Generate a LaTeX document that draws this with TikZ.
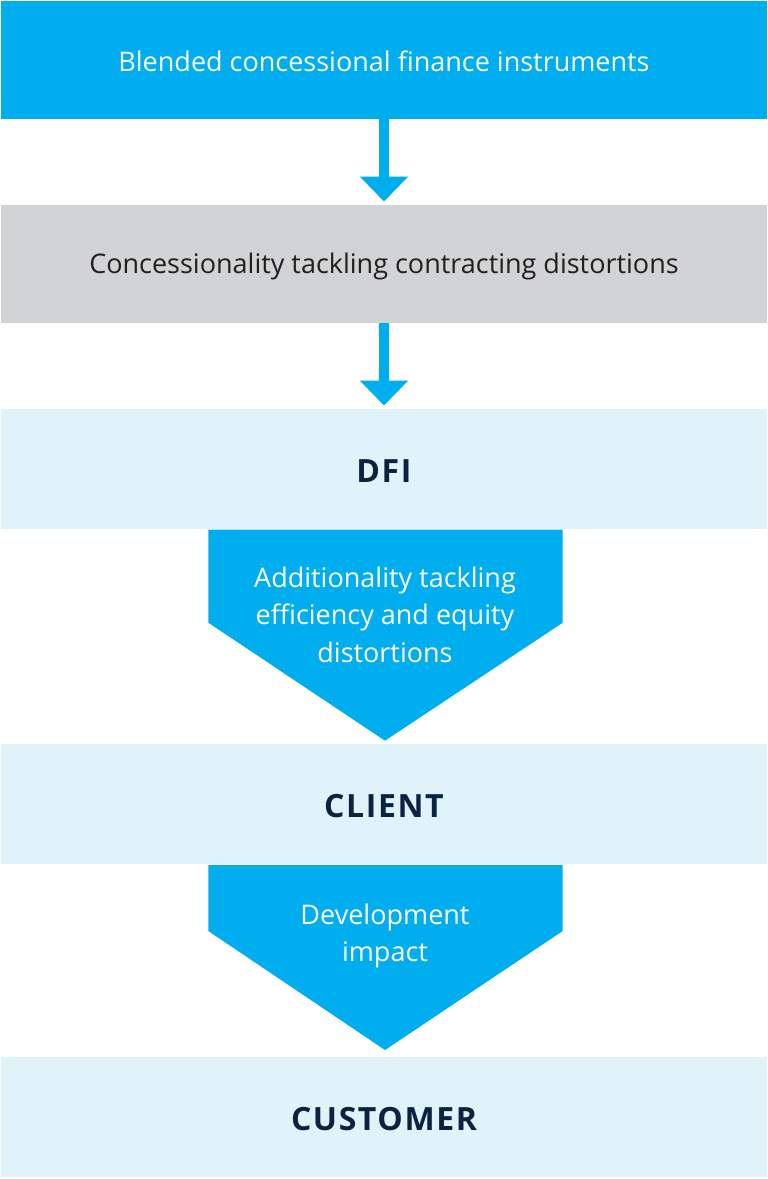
\documentclass[tikz,border=0pt]{standalone}
\usepackage{fontspec}
\setmainfont{Open Sans}
\usetikzlibrary{positioning,arrows.meta}
\definecolor{fmoblue}{HTML}{00AEEF}
\definecolor{fmogray}{HTML}{D1D3D4}
\definecolor{fmolight}{HTML}{E0F2FA}
\definecolor{fmonavy}{HTML}{0B2341}
\definecolor{fmotext}{HTML}{231F20}
\begin{document}
\begin{tikzpicture}[x=1pt, y=-1pt, node distance={86pt},
  band/.style = {rectangle, inner sep=0pt, outer sep=0pt, minimum width=766pt, minimum height=118pt, text height=22pt, text depth=2pt, font=\fontsize{27}{37}\selectfont},
  bluebox/.style = {band, fill=fmoblue, text=white, text height=24pt, text depth=0pt},
  graybox/.style = {band, fill=fmogray, text=fmotext},
  lightbox/.style = {band, fill=fmolight, text=fmonavy, minimum height=120pt, text height=27pt, text depth=0pt, font=\fontsize{32}{37}\selectfont\bfseries\addfontfeature{LetterSpace=5}},
  flow/.style = {line width=10.5pt, fmoblue, -{Triangle[width=47pt,length=25pt]}, shorten >=3pt},
  chevron/.style = {fill=fmoblue},
  label/.style = {align=center, text=white, font=\fontsize{27}{37.5}\selectfont}]
  \useasboundingbox (0,0) rectangle (768,1179);
  \node[bluebox] (instr) at (384,59.5) {Blended concessional finance instruments};
  \node[graybox] (conc) [below=of instr] {Concessionality tackling contracting distortions};
  \node[lightbox] (dfi) [below=of conc] {DFI};
  \node[lightbox] (client) [below=215pt of dfi] {CLIENT};
  \node[lightbox] (customer) [below=193pt of client] {CUSTOMER};
  \draw[flow] (instr) -- (conc);
  \draw[flow] (conc) -- (dfi);
  % chevrons between the bands
  \fill[chevron] (208.3,529.5) -- (562.7,529.5) -- (562.7,622.7) -- (385,740.7) -- (208.3,622.7) -- cycle;
  \fill[chevron] (208.3,865) -- (562.7,865) -- (562.7,931) -- (385,1050) -- (208.3,931) -- cycle;
  \node[label] (addit) at (385,614.5) {Additionality tackling\\efficiency and equity\\distortions};
  \node[label] (impact) at (385,936) {Development\\impact};
\end{tikzpicture}
\end{document}
